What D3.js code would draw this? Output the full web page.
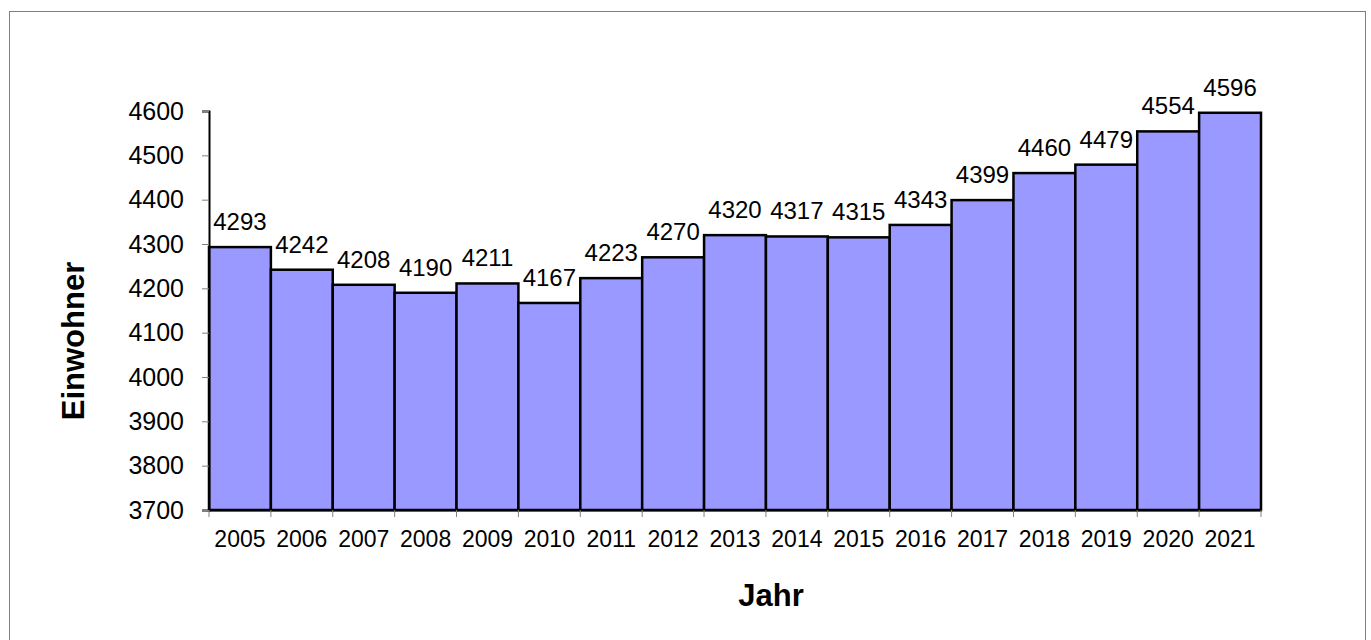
<!DOCTYPE html>
<html>
<head>
<meta charset="utf-8">
<script src="https://cdn.jsdelivr.net/npm/d3@7"></script>
<style>
  body { margin: 0; background: #fff; }
  text { font-family: "Liberation Sans", Arial, sans-serif; }
</style>
</head>
<body>
<div id="chart"></div>
<script>
// Data
const YEARS = ['2005','2006','2007','2008','2009','2010','2011','2012','2013','2014','2015','2016','2017','2018','2019','2020','2021']
const EINWOHNER = [4293,4242,4208,4190,4211,4167,4223,4270,4320,4317,4315,4343,4399,4460,4479,4554,4596]
const Y_TICKS = [3700,3800,3900,4000,4100,4200,4300,4400,4500,4600]

const W = 1371, H = 640
const PLOT_LEFT = 209, PLOT_RIGHT = 1261, PLOT_TOP = 111, PLOT_BOTTOM = 510

var svg = d3.select('#chart').append('svg')
    .attr('width', W)
    .attr('height', H)
    .style('display', 'block')

// outer frame
svg.append('rect')
    .attr('x', 9.5).attr('y', 11.5)
    .attr('width', 1356).attr('height', 640)
    .attr('fill', 'none')
    .attr('stroke', '#808080')
    .attr('stroke-width', 1)

var x = d3.scaleBand().domain(YEARS).range([PLOT_LEFT, PLOT_RIGHT]).padding(0)
var y = d3.scaleLinear().domain([3700, 4600]).range([PLOT_BOTTOM, PLOT_TOP])

// bars
svg.append('g').selectAll('rect').data(EINWOHNER).enter()
    .append('rect')
    .attr('x', (d, i) => x(YEARS[i]))
    .attr('y', d => y(d))
    .attr('width', x.bandwidth())
    .attr('height', d => PLOT_BOTTOM - y(d))
    .attr('fill', '#9999ff')
    .attr('stroke', '#000')
    .attr('stroke-width', 2.5)

// value labels
svg.append('g').selectAll('text').data(EINWOHNER).enter()
    .append('text')
    .attr('x', (d, i) => x(YEARS[i]) + x.bandwidth() / 2)
    .attr('y', d => y(d) - 17)
    .attr('text-anchor', 'middle')
    .style('font-size', '24px')
    .text(d => d)

// y axis
var yAxis = svg.append('g')
    .attr('transform', 'translate(' + PLOT_LEFT + ',0)')
    .call(d3.axisLeft(y).tickValues(Y_TICKS).tickSize(7).tickPadding(18).tickFormat(d3.format('d')))
yAxis.select('.domain').attr('stroke', '#000').attr('stroke-width', 2)
yAxis.selectAll('.tick line').attr('stroke', '#808080')
yAxis.selectAll('text').style('font-size', '25px').attr('fill', '#000')

// x axis
var xAxis = svg.append('g')
    .attr('transform', 'translate(0,' + PLOT_BOTTOM + ')')
    .call(d3.axisBottom(x).tickSize(0).tickPadding(21))
xAxis.select('.domain').attr('stroke', '#000').attr('stroke-width', 2)
xAxis.selectAll('text').style('font-size', '23px').attr('fill', '#000')
// category boundary ticks
xAxis.selectAll('line.sep').data(d3.range(YEARS.length + 1)).enter()
    .append('line').classed('sep', true)
    .attr('x1', i => PLOT_LEFT + i * x.step()).attr('x2', i => PLOT_LEFT + i * x.step())
    .attr('y1', 0).attr('y2', 7)
    .attr('stroke', '#808080')

// axis titles
svg.append('text')
    .attr('x', 771)
    .attr('y', 606)
    .attr('text-anchor', 'middle')
    .style('font-size', '31px')
    .style('font-weight', 'bold')
    .text('Jahr')

svg.append('text')
    .attr('transform', 'translate(84,341) rotate(-90)')
    .attr('text-anchor', 'middle')
    .style('font-size', '31px')
    .style('font-weight', 'bold')
    .text('Einwohner')
</script>
</body>
</html>
